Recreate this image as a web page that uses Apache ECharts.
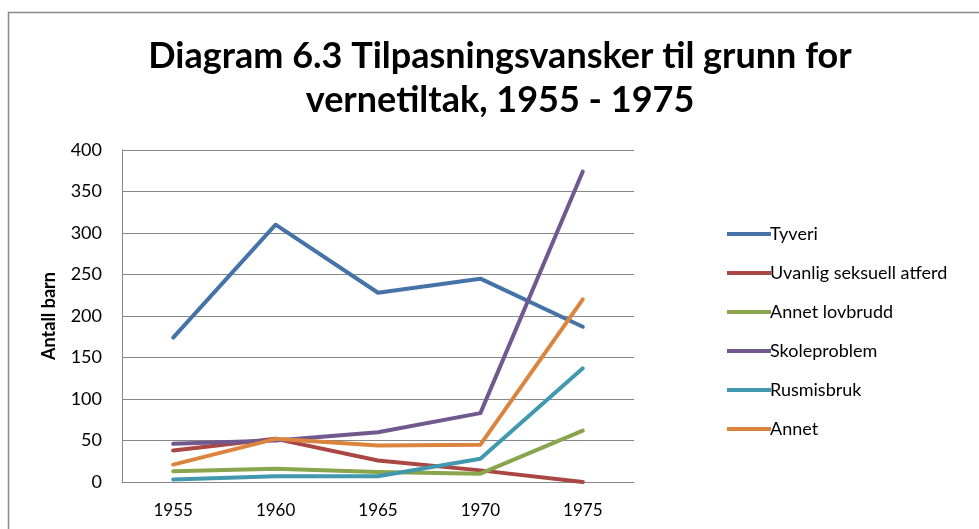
<!DOCTYPE html>
<html>
<head>
<meta charset="utf-8">
<script src="https://cdn.jsdelivr.net/npm/echarts@6/dist/echarts.min.js"></script>
<style>
  html, body { margin: 0; padding: 0; background: #fff; }
  #chart { width: 979px; height: 529px; }
</style>
</head>
<body>
<div id="chart"></div>
<script>
// kategorier og verdier (lest av fra figuren)
const years = ["1955", "1960", "1965", "1970", "1975"];
const yTicks = [0, 50, 100, 150, 200, 250, 300, 350, 400];

const tyveri = [174, 310, 228, 245, 187];
const uvanlig = [38, 52, 26, 14, 0];
const annetLovbrudd = [13, 16, 12, 10, 62];
const skoleproblem = [46, 50, 60, 83, 374];
const rusmisbruk = [3, 7, 7, 28, 137];
const annet = [21, 52, 44, 45, 220];

const seriesNames = ["Tyveri", "Uvanlig seksuell atferd", "Annet lovbrudd", "Skoleproblem", "Rusmisbruk", "Annet"];
const seriesData = [tyveri, uvanlig, annetLovbrudd, skoleproblem, rusmisbruk, annet];
const colors = ["#4572A7", "#AA4643", "#89A54E", "#71588F", "#4198AF", "#DB843D"];
const titleLines = ["Diagram 6.3 Tilpasningsvansker til grunn for", "vernetiltak, 1955 - 1975"];

const font = "Lato, 'Open Sans', sans-serif";

let myChart = echarts.init(document.getElementById("chart"));
myChart.setOption({
  animation: false,
  color: colors,
  // tittel i to linjer, sentrert rundt x=500
  title: titleLines.map((t, i) => ({
    text: t,
    left: 500,
    top: 34 + i * 44,
    textAlign: "center",
    padding: 0,
    textStyle: {
      fontFamily: font,
      fontSize: 36,
      fontWeight: "bold",
      color: "#000",
      lineHeight: 44,
    },
  })),
  graphic: [
    {
      type: "rect",
      shape: { x: 8.5, y: 12.5, width: 990, height: 540 },
      style: { fill: "none", stroke: "#878787", lineWidth: 1.5 },
      silent: true,
    },
  ],
  legend: {
    orient: "vertical",
    left: 722,
    top: 220,
    itemGap: 21,
    itemWidth: 44,
    itemHeight: 20,
    icon: "path://M0,8 L44,8 L44,12 L0,12 Z",
    textStyle: { fontFamily: font, fontSize: 18, color: "#000", padding: [0, 0, 0, -6] },
    data: seriesNames,
  },
  grid: {
    left: 122,
    right: 345,
    top: 150,
    bottom: 47,
    containLabel: false,
  },
  xAxis: {
    type: "category",
    data: years,
    boundaryGap: true,
    axisLine: { lineStyle: { color: "#878787", width: 1 } },
    axisTick: { show: false },
    axisLabel: { fontFamily: font, fontSize: 17, color: "#000", margin: 20 },
  },
  yAxis: {
    type: "value",
    min: yTicks[0],
    max: yTicks[yTicks.length - 1],
    interval: 50,
    name: "Antall barn",
    nameLocation: "middle",
    nameRotate: 90,
    nameGap: 64,
    nameTextStyle: { fontFamily: font, fontSize: 18, fontWeight: "bold", color: "#000" },
    axisLine: { show: true, lineStyle: { color: "#878787", width: 1 } },
    axisTick: { show: false },
    splitLine: { lineStyle: { color: "#878787", width: 1 } },
    axisLabel: { fontFamily: font, fontSize: 18, color: "#000", margin: 20 },
  },
  series: seriesNames.map((name, i) => ({
    name: name,
    type: "line",
    data: seriesData[i],
    symbol: "none",
    lineStyle: { width: 4, cap: "round", join: "round", color: colors[i] },
    itemStyle: { color: colors[i] },
  })),
});
</script>
</body>
</html>
